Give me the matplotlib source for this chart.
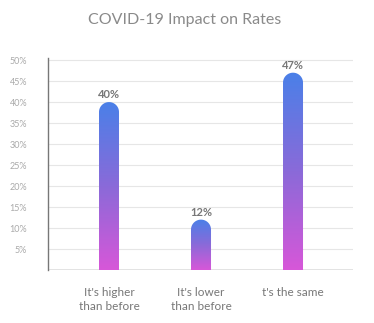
import matplotlib
matplotlib.use("Agg")
import matplotlib.pyplot as plt
import numpy as np
from matplotlib.path import Path
from matplotlib.patches import PathPatch
from matplotlib.colors import LinearSegmentedColormap

plt.rcParams['font.family'] = ['Lato', 'DejaVu Sans']

# data
categories = ["It's higher\nthan before", "It's lower\nthan before", "t's the same"]
values = [40, 12, 47]
yticks = [5, 10, 15, 20, 25, 30, 35, 40, 45, 50]

fig = plt.figure(figsize=(3.74, 3.23), dpi=100)
ax = fig.add_axes([48/374, 53/323, 305/374, 212/323])

cmap = LinearSegmentedColormap.from_list('grad', ['#d757d8', '#8a6ad9', '#4a80e8'])
grad = np.linspace(0, 1, 256).reshape(-1, 1)

# bar size in pixels -> data units
bw = 20 / 92.0
r_y = 10 / 4.2

for i, v in enumerate(values):
    x0, x1 = i - bw/2, i + bw/2
    top = v - r_y
    t = np.linspace(np.pi, 0, 40)
    arc_x = i + (bw/2) * np.cos(t)
    arc_y = top + r_y * np.sin(t)
    verts = [(x0, 0), (x0, top)] + list(zip(arc_x, arc_y)) + [(x1, 0), (x0, 0)]
    codes = [Path.MOVETO] + [Path.LINETO] * (len(verts) - 2) + [Path.CLOSEPOLY]
    patch = PathPatch(Path(verts, codes), facecolor='none', edgecolor='none')
    ax.add_patch(patch)
    im = ax.imshow(grad, cmap=cmap, origin='lower', aspect='auto',
                   extent=[x0, x1, 0, v], zorder=3)
    im.set_clip_path(patch)
    ax.text(i, v + 0.5, f"{v}%", ha='center', va='bottom', fontsize=8,
            fontweight='bold', color='#777777', zorder=4)

ax.set_xlim(-0.663, 2.652)
ax.set_ylim(0, 50.5)

ax.set_yticks(yticks)
ax.set_yticklabels([f"{t}%" for t in yticks])
ax.set_xticks(range(len(categories)))
ax.set_xticklabels(categories, linespacing=1.35)
ax.tick_params(axis='y', length=0, pad=15, labelsize=6.5, labelcolor='#aaaaaa')
ax.tick_params(axis='x', length=0, pad=12, labelsize=8.5, labelcolor='#777777')
for lab in ax.get_yticklabels():
    lab.set_horizontalalignment('right')

ax.grid(axis='y', color='#e6e6e6', linewidth=0.8, zorder=0)
ax.axhline(0, color='#e0e0e0', linewidth=2, zorder=1)
ax.set_axisbelow(True)
for s in ['top', 'right', 'bottom']:
    ax.spines[s].set_visible(False)
ax.spines['left'].set_color('#777777')
ax.spines['left'].set_linewidth(1)

fig.text(185/374, 1 - 20/323, "COVID-19 Impact on Rates", ha='center', va='center',
         fontsize=11.5, color='#8a8a8a')

fig.savefig('out.png', dpi=100)
